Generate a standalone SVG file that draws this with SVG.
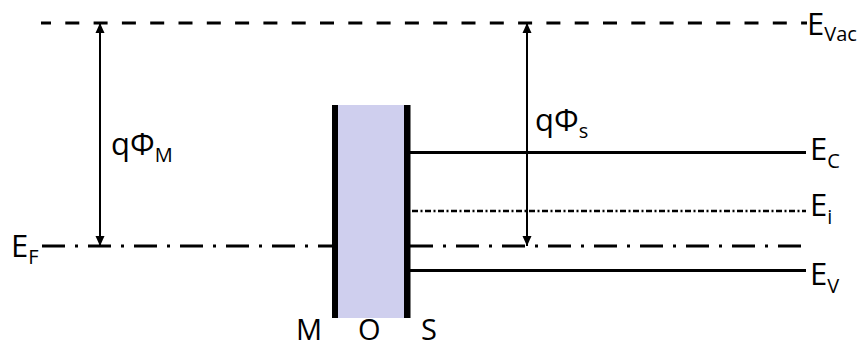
<svg xmlns="http://www.w3.org/2000/svg" width="863" height="348" viewBox="0 0 863 348">
<defs>
<style>
text{font-family:"Open Sans","Noto Sans",sans-serif;fill:#000}
.lbl{font-size:31px}
.sub{font-size:20px}
.mos{font-size:29px}
.solid{stroke:#000;stroke-width:3;fill:none}
.vac{stroke:#000;stroke-width:3.2;stroke-dasharray:14 14.3;fill:none}
.ef{stroke:#000;stroke-width:3;stroke-dasharray:23 10 3 10;fill:none}
.ei{stroke:#000;stroke-width:2.4;stroke-dasharray:6 2.5 2 2.5;fill:none}
.arr{stroke:#000;stroke-width:2;fill:none;marker-start:url(#ah);marker-end:url(#ah)}
</style>
<marker id="ah" viewBox="0 0 10 10" refX="10" refY="5" markerWidth="10" markerHeight="10" markerUnits="userSpaceOnUse" orient="auto-start-reverse">
<path d="M0,0.5 L10,5 L0,9.5 Z" fill="#000"/>
</marker>
</defs>
<g id="levels">
<line id="vac" class="vac" x1="41" y1="23" x2="807" y2="23" stroke-dashoffset="4"/>
<line id="ef-left" class="ef" x1="42" y1="246" x2="333" y2="246"/>
<line id="ef-right" class="ef" x1="410" y1="246" x2="807" y2="246"/>
<line id="ec" class="solid" x1="410" y1="152.5" x2="806" y2="152.5"/>
<line id="ei" class="ei" x1="412" y1="211" x2="806" y2="211"/>
<line id="ev" class="solid" x1="410" y1="270.5" x2="806" y2="270.5"/>
</g>
<g id="oxide">
<rect x="338" y="105" width="66" height="213" fill="#cfcfee"/>
<rect x="332" y="105" width="6" height="213" fill="#000"/>
<rect x="404" y="105" width="6.5" height="213" fill="#000"/>
</g>
<g id="connectors">
<line class="arr" x1="100" y1="23" x2="100" y2="246"/>
<line class="arr" x1="527" y1="23" x2="527" y2="246"/>
</g>
<g id="labels">
<text class="lbl" x="807" y="35">E<tspan class="sub" dy="6">Vac</tspan></text>
<text class="lbl" x="810" y="160">E<tspan class="sub" dy="8">C</tspan></text>
<text class="lbl" x="810" y="216">E<tspan class="sub" dy="8">i</tspan></text>
<text class="lbl" x="810" y="285">E<tspan class="sub" dy="8">V</tspan></text>
<text class="lbl" x="11" y="257">E<tspan class="sub" dy="7">F</tspan></text>
<text class="lbl" x="111" y="155">qΦ<tspan class="sub" dy="7">M</tspan></text>
<text class="lbl" x="535" y="131">qΦ<tspan class="sub" dy="7">s</tspan></text>
<text class="mos" x="296" y="340">M</text>
<text class="mos" x="358" y="340">O</text>
<text class="mos" x="421" y="340">S</text>
</g>
</svg>
